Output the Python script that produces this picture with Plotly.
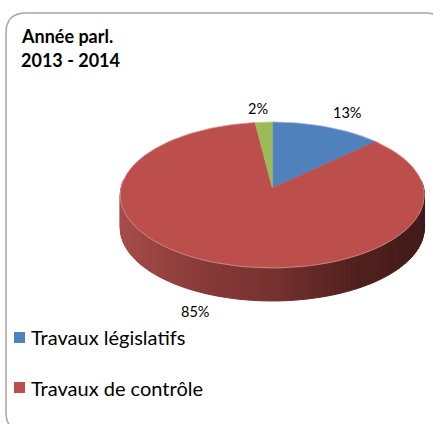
import math
import plotly.graph_objects as go

# Data
SLICE_VALUES = [13, 85, 2]
SLICE_COLORS = ["#4f81bd", "#bc4f4c", "#9bbb59"]
PERCENT_LABELS = ["13%", "85%", "2%"]
LEGEND_LABELS = ["Travaux législatifs", "Travaux de contrôle"]
TITLE_LINES = ["Année parl.", "2013 - 2014"]

# Pie geometry (pixels: the axes span the whole page)
CX, CY = 272.3, 188.0
RX, RY, K = 151.3, 72.3, 0.096
DEPTH = 33


def rim(theta_deg):
    """Perspective projection of a point of the pie rim; theta clockwise from top."""
    t = math.radians(theta_deg)
    u, v = math.sin(t), math.cos(t)
    w = 1 + K * v
    return CX + RX * u / w, CY - RY * v / w


def lerp_color(x):
    stops = [(121, (166, 76, 73)), (200, (136, 58, 56)), (272, (118, 50, 48)),
             (350, (82, 33, 31)), (424, (66, 26, 24))]
    for (x0, c0), (x1, c1) in zip(stops, stops[1:]):
        if x <= x1:
            f = max(0, (x - x0) / (x1 - x0))
            return "rgb(%d,%d,%d)" % tuple(round(a + (b - a) * f) for a, b in zip(c0, c1))
    return "rgb(%d,%d,%d)" % stops[-1][1]


fig = go.Figure()

# Side wall, drawn in narrow strips to give the shaded look of the 3D rim
STEP = 2.0
theta = 84.0
while theta < 276:
    x0, y0 = rim(theta)
    x1, y1 = rim(theta + STEP)
    col = lerp_color((x0 + x1) / 2)
    fig.add_trace(go.Scatter(
        x=[x0, x1, x1, x0, x0], y=[y0, y1, y1 + DEPTH, y0 + DEPTH, y0],
        mode="lines", fill="toself", fillcolor=col, line=dict(color=col, width=1),
        hoverinfo="skip", showlegend=False))
    theta += STEP

# Top face slices
total = sum(SLICE_VALUES)
start = 0.0
for value, color in zip(SLICE_VALUES, SLICE_COLORS):
    sweep = 360.0 * value / total
    n = max(2, int(sweep))
    pts = [rim(start + sweep * i / n) for i in range(n + 1)]
    fig.add_trace(go.Scatter(
        x=[CX] + [p[0] for p in pts] + [CX],
        y=[CY] + [p[1] for p in pts] + [CY],
        mode="lines", fill="toself", fillcolor=color,
        line=dict(color=color, width=0.5), hoverinfo="skip", showlegend=False))
    start += sweep

# Pale edge round the top face
edge = [rim(a) for a in range(0, 361, 3)]
fig.add_trace(go.Scatter(x=[p[0] for p in edge], y=[p[1] for p in edge], mode="lines",
                         line=dict(color="rgba(225,205,205,0.55)", width=0.8),
                         hoverinfo="skip", showlegend=False))

# Legend swatches
for label, color, y in zip(LEGEND_LABELS, SLICE_COLORS, [337.5, 387.5]):
    fig.add_trace(go.Scatter(x=[19.5], y=[y], mode="markers",
                             marker=dict(symbol="square", size=11, color=color, line=dict(width=0)),
                             hoverinfo="skip", showlegend=False))

annotations = []
for text, x, y in zip(PERCENT_LABELS, [347, 195, 258], [112, 311, 108]):
    annotations.append(dict(x=x, y=y, text=text, showarrow=False, xanchor="center", yanchor="middle",
                            font=dict(family="Lato", size=14.5, color="#000000")))
for text, y in zip(LEGEND_LABELS, [337, 388]):
    annotations.append(dict(x=29.5, y=y, text=text, showarrow=False, xanchor="left", yanchor="middle",
                            font=dict(family="Lato", size=20, color="#000000")))
for text, y in zip(TITLE_LINES, [36, 60]):
    annotations.append(dict(x=20, y=y, text="<b>%s</b>" % text, showarrow=False, xanchor="left",
                            yanchor="middle", font=dict(family="Lato", size=18, color="#000000")))
for a in annotations:
    a.update(xref="x", yref="y", borderpad=0)

# Rounded frame, running out of the page on the right and at the bottom
frame = "M 6 33 Q 6 13 26 13 L 426 13 Q 445 13 445 33 L 445 412 Q 445 432 425 432 L 26 432 Q 6 432 6 412 Z"

fig.update_layout(
    width=433, height=424, autosize=False,
    margin=dict(l=0, r=0, t=0, b=0),
    paper_bgcolor="white", plot_bgcolor="white",
    xaxis=dict(range=[0, 433], visible=False, fixedrange=True),
    yaxis=dict(range=[424, 0], visible=False, fixedrange=True),
    shapes=[dict(type="path", path=frame, xref="x", yref="y",
                 line=dict(color="#a6a6a6", width=1.5), layer="below")],
    annotations=annotations,
    showlegend=False,
)
fig.write_html("out.html", config=dict(displayModeBar=False),
               post_script="document.body.style.margin='0';document.body.style.overflow='hidden';")
